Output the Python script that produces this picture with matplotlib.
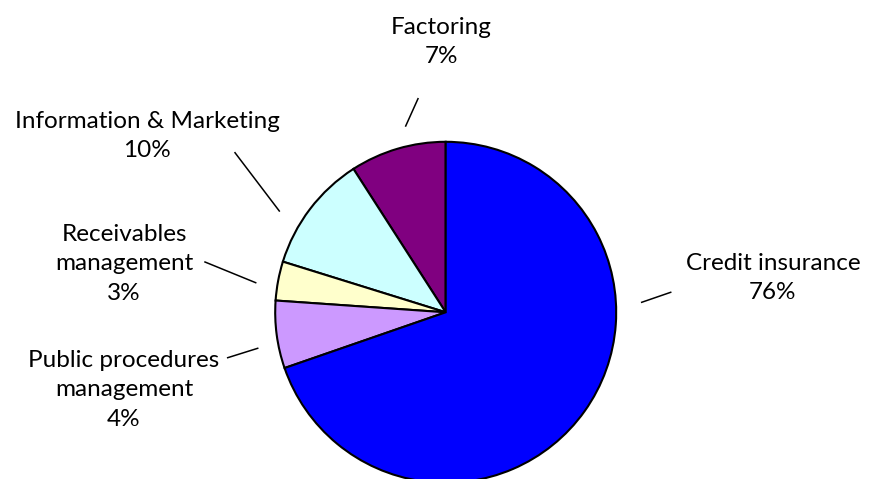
import matplotlib.pyplot as plt

# shares; label text as printed on the chart
segments = ['Factoring', 'Information & Marketing', 'Receivables management',
            'Public procedures management', 'Credit insurance']
shares = [9.1, 11.1, 3.7, 6.4, 69.7]
label_text = ['Factoring\n7%', 'Information & Marketing\n10%',
              'Receivables\nmanagement\n3%', 'Public procedures\nmanagement\n4%',
              'Credit insurance\n76%']
colors = ['#800080', '#CCFFFF', '#FFFFCC', '#CC99FF', '#0000FF']

# layout in pixels of the 875x479 canvas
CX, CY, R = 445.7, 312.3, 170.5


def px(x, y):
    return (x - CX) / R, (CY - y) / R


label_pos = [(441, 42), (147, 136), (124, 264), (124, 390), (773, 278)]
leaders = [((405.7, 126), (418, 98.7)),
           ((235, 152.7), (279.3, 211)),
           ((205, 262), (255.7, 282.7)),
           ((227.7, 357.7), (257.7, 348.3)),
           ((641.7, 302.3), (670.7, 292.3))]

fig = plt.figure(figsize=(8.75, 4.79), dpi=100)
ax = fig.add_axes([0, 0, 1, 1])
ax.pie(shares, colors=colors, startangle=90, counterclock=True,
       wedgeprops=dict(edgecolor='black', linewidth=1.5))
ax.set_aspect('auto')
ax.set_xlim(px(0, 0)[0], px(875, 0)[0])
ax.set_ylim(px(0, 479)[1], px(0, 0)[1])
ax.axis('off')

for txt, (x, y) in zip(label_text, label_pos):
    ax.text(*px(x, y), txt, ha='center', va='center', fontsize=17.5,
            family=['Lato', 'DejaVu Sans'], linespacing=1.5)

for (a, b) in leaders:
    (x0, y0), (x1, y1) = px(*a), px(*b)
    ax.plot([x0, x1], [y0, y1], color='black', linewidth=1.1)

plt.savefig('out.png', dpi=100)
